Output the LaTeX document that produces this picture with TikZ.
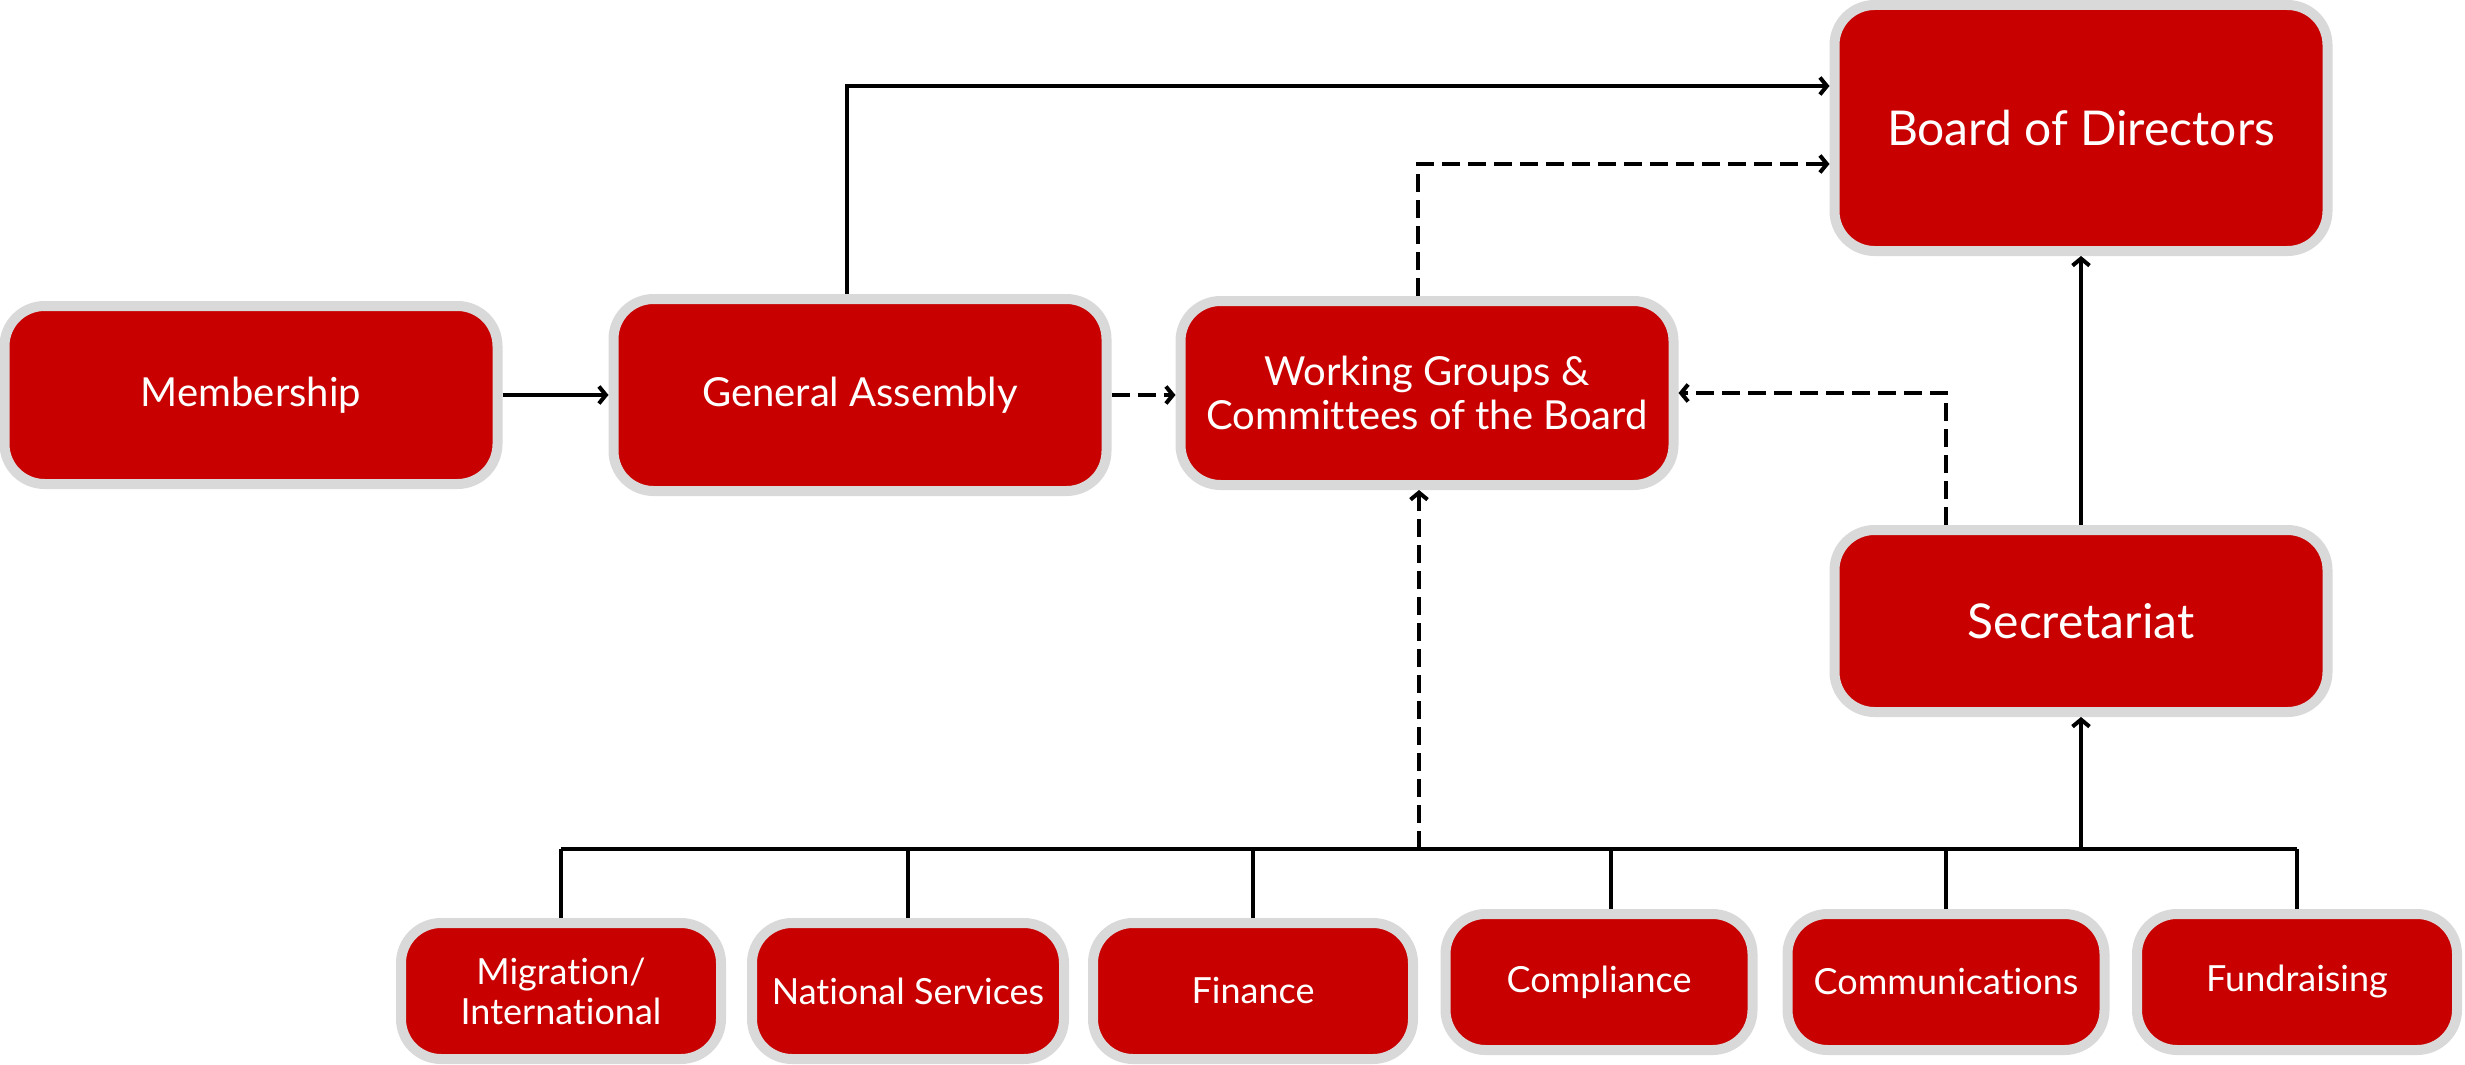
\documentclass[tikz,border=0pt]{standalone}
\usepackage{fontspec}
\setmainfont{Lato}[Ligatures=NoCommon]
\usetikzlibrary{arrows.meta}
\definecolor{boxred}{HTML}{C80000}
\definecolor{boxgray}{HTML}{D9D9D9}
\begin{document}
\begin{tikzpicture}[x=1pt,y=-1pt,
  box/.style={fill=boxred, draw=boxgray, line width=10pt, rounded corners=40pt,
    text=white, inner sep=0pt, align=center, font=\fontsize{40}{44}\selectfont},
  bigbox/.style={box, font=\fontsize{48}{54}\selectfont},
  smallbox/.style={box, minimum height=136pt, font=\fontsize{36}{40}\selectfont},
  conn/.style={line width=4pt, draw=black},
  arr/.style={conn, -{Straight Barb[length=7pt,width=17pt]}},
  darr/.style={arr, dash pattern=on 18pt off 8pt},
]
\useasboundingbox (0,0) rectangle (2465,1065);

\node[box, minimum width=493pt, minimum height=178pt] (mem) at (251,395) {Membership};
\node[box, minimum width=493pt, minimum height=192pt] (ga) at (860,395) {General Assembly};
\node[box, minimum width=493pt, minimum height=184pt] (wg) at (1427,393) {Working Groups \&\\Committees of the Board};
\node[bigbox, minimum width=493pt, minimum height=246pt] (bod) at (2081,128) {Board of Directors};
\node[bigbox, minimum width=493pt, minimum height=182pt] (sec) at (2081,621) {Secretariat};

\node[smallbox, minimum width=320pt] (mig) at (561,991) {Migration/\\International};
\node[smallbox, minimum width=312pt] (nat) at (908,991) {National Services};
\node[smallbox, minimum width=320pt] (fin) at (1253,991) {Finance};
\node[smallbox, minimum width=307pt] (com) at (1599,982) {Compliance};
\node[smallbox, minimum width=317pt] (cmm) at (1946,982) {Communications};
\node[smallbox, minimum width=320pt] (fun) at (2297,982) {Fundraising};

\coordinate (bus) at (0,849);

% top-level connectors
\draw[arr] (mem.east) -- (mem.east -| ga.west);
\draw[darr] (ga.east) -- (ga.east -| wg.west);
\draw[arr] ([xshift=-13pt]ga.north) |- ([yshift=42pt]bod.west);
\draw[darr] ([xshift=-9pt]wg.north) |- ([yshift=-36pt]bod.west);
\draw[arr] (sec.north) -- (bod.south);
\draw[darr] ([xshift=-135pt]sec.north) |- (wg.east);

% bus
\draw[conn] (mig.north |- bus) -- (fun.north |- bus);
\draw[conn] (mig.north) -- (mig.north |- bus);
\draw[conn] (nat.north) -- (nat.north |- bus);
\draw[conn] (fin.north) -- (fin.north |- bus);
\draw[conn] ([xshift=12pt]com.north) -- ([xshift=12pt]com.north |- bus);
\draw[conn] (cmm.north) -- (cmm.north |- bus);
\draw[conn] (fun.north) -- (fun.north |- bus);
\draw[darr] ([xshift=-8pt]wg.south |- bus) -- ([xshift=-8pt]wg.south);
\draw[arr] (sec.south |- bus) -- (sec.south);
\end{tikzpicture}
\end{document}
